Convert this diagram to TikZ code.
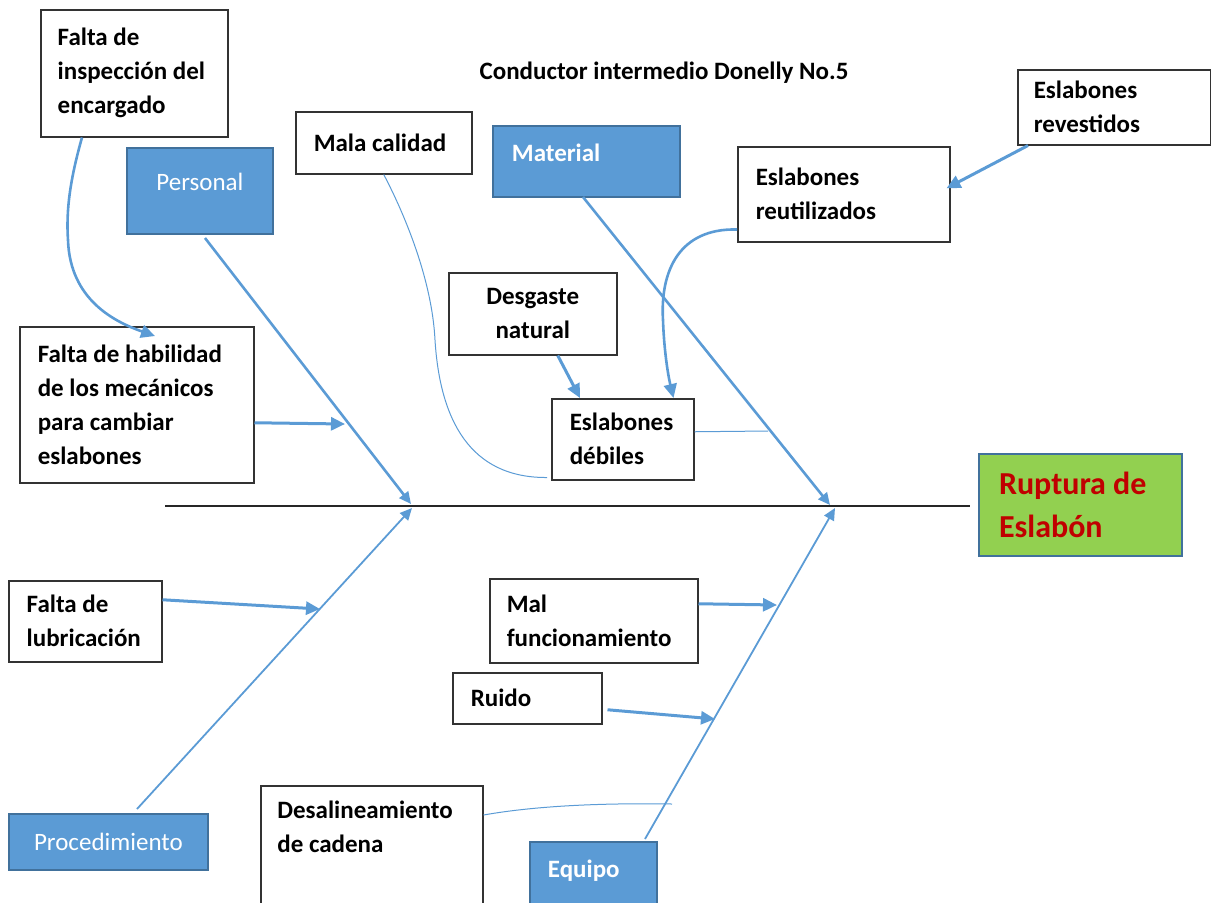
\documentclass[tikz,border=0pt]{standalone}
\usepackage{fontspec}
\setmainfont{Carlito}
\usetikzlibrary{arrows.meta}
\hyphenpenalty=10000
\exhyphenpenalty=10000
\definecolor{boneblue}{HTML}{5B9BD5}
\definecolor{boxblue}{HTML}{5B9BD5}
\definecolor{boxedge}{HTML}{41719C}
\definecolor{effectgreen}{HTML}{92D050}
\definecolor{effectred}{HTML}{C00000}
\newcommand\causefont{\fontsize{12.5}{17}\selectfont\bfseries}
\newcommand\catfont{\fontsize{12.5}{17}\selectfont}
\newcommand\effectfont{\fontsize{16}{21.5}\selectfont\bfseries}

\begin{document}
\begin{tikzpicture}[x=0.5pt,y=-0.5pt,
  every node/.style={execute at begin node={\spaceskip=0pt\xspaceskip=0pt}},
  cause/.style={draw=black!80, line width=0.75pt, fill=white, inner sep=0pt,
    anchor=north west, align=left, font=\causefont},
  category/.style={draw=boxedge, line width=0.9pt, fill=boxblue, text=white,
    inner sep=0pt, anchor=north west},
  bone/.style={draw=boneblue, line width=1.3pt, -{Triangle[length=6pt,width=5.5pt]}},
  thinbone/.style={draw=boneblue, line width=0.9pt, -{Triangle[length=6pt,width=5.5pt]}},
  feed/.style={draw=boneblue, line width=1.5pt, -{Triangle[length=7pt,width=6.5pt]}},
  link/.style={draw=boneblue, line width=0.5pt},
]
\useasboundingbox (0,0) rectangle (1211,902);

% title
\node[font=\causefont] (title) at (664,73) {Conductor intermedio Donelly No.5};

% cause boxes
\node[cause, minimum width=93.5pt, minimum height=63.5pt, text width=76.5pt] (insp) at (40,9)
  {Falta de\\inspección del\\encargado};
\node[cause, minimum width=88pt, minimum height=31pt, text width=70pt] (mala) at (295,111)
  {Mala calidad};
\node[cause, minimum width=106pt, minimum height=47.5pt, text width=88pt] (reut) at (737,146)
  {Eslabones\\reutilizados};
\node[cause, minimum width=96.5pt, minimum height=37.5pt, text width=80.5pt] (reves) at (1017,69)
  {Eslabones\\revestidos};
\node[cause, minimum width=84pt, minimum height=41pt, text width=70pt, align=center] (desg) at (448,272)
  {Desgaste\\natural};
\node[cause, minimum width=71pt, minimum height=40.5pt, text width=53pt] (debil) at (551,398)
  {Eslabones\\débiles};
\node[cause, minimum width=117pt, minimum height=78pt, text width=99pt] (habil) at (19,326)
  {Falta de habilidad\\de los mecánicos\\para cambiar\\eslabones};
\node[cause, minimum width=76.5pt, minimum height=40.5pt, text width=58.5pt] (lubr) at (8,580)
  {Falta de\\lubricación};
\node[cause, minimum width=104pt, minimum height=42pt, text width=87pt] (malf) at (489,578)
  {Mal\\funcionamiento};
\node[cause, minimum width=74.5pt, minimum height=25.5pt, text width=56.5pt] (ruido) at (452,672)
  {Ruido};
\node[cause, minimum width=111pt, minimum height=70pt] (desal) at (260,785) {};
\node[font=\causefont, align=left, inner sep=0pt, anchor=north west] (desaltext) at (277,801)
  {Desalineamiento\\de cadena};

% category boxes
\node[category, minimum width=73pt, minimum height=43pt, font=\catfont,
  text height=8pt, text depth=8pt] (personal) at (126,147) {Personal};
\node[category, minimum width=93.5pt, minimum height=35.5pt, text width=74.5pt, align=left,
  font=\causefont, text height=8pt, text depth=8pt] (material) at (492,125) {Material};
\node[category, minimum width=99.5pt, minimum height=28pt, font=\catfont] (proced) at (8,813)
  {Procedimiento};
\node[category, minimum width=63.5pt, minimum height=36pt, text width=45.5pt, align=left,
  font=\causefont, text height=8pt, text depth=8pt] (equipo) at (529,841) {Equipo};

% effect
\node[draw=boxedge, line width=1pt, fill=effectgreen, text=effectred, font=\effectfont,
  inner sep=0pt, anchor=north west, minimum width=101.5pt, minimum height=51pt,
  text width=81.5pt, align=left] (effect) at (978,453) {Ruptura de\\Eslabón};

% spine
\coordinate (spineL) at (165,506);
\coordinate (spineR) at (970,506);
\draw[black!85, line width=0.7pt] (spineL) -- (spineR);

% bones
\coordinate (pTail) at (205,238); \coordinate (pHead) at (411,504);
\coordinate (mTail) at (583,197); \coordinate (mHead) at (830,505);
\coordinate (rTail) at (137,809); \coordinate (rHead) at (412,508);
\coordinate (eTail) at (645,839); \coordinate (eHead) at (835,508);
\draw[bone] (pTail) -- (pHead);
\draw[bone] (mTail) -- (mHead);
\draw[thinbone] (rTail) -- (rHead);
\draw[thinbone] (eTail) -- (eHead);

% points where the causes meet the bones
\coordinate (jHab) at (345,424);
\coordinate (jLub) at (320,609);
\coordinate (jMal) at (777,605);
\coordinate (jRui) at (715,719);
\coordinate (jDeb) at (768,431);
\coordinate (jDes) at (672,804);

\draw[feed] ([yshift=-9pt]habil.east) -- (jHab);
\draw[feed] ([yshift=10.75pt]lubr.east) -- (jLub);
\draw[feed] ([yshift=8.5pt]malf.east) -- (jMal);
\draw[feed] ([xshift=2.5pt,yshift=-5.75pt]ruido.east) -- (jRui);
\draw[feed] ([xshift=5.5pt]reves.south west) -- ([xshift=-2pt,yshift=3pt]reut.east);
\draw[feed] ([xshift=12.5pt]desg.south) -- ([xshift=14.5pt]debil.north west);
\draw[feed, line width=1.3pt] ([xshift=21pt]insp.south west)
  .. controls (70,180) and (66,210) .. (68,240)
  .. controls (70,300) and (115,322) .. ([xshift=68pt,yshift=-5pt]habil.north west);
\draw[feed, line width=1.3pt] ([yshift=6.5pt]reut.south west)
  .. controls (680,228) and (660,270) .. (663,320)
  .. controls (664,350) and (668,375) .. ([xshift=-10.5pt]debil.north east);

% thin links
\draw[link] (mala.south) .. controls (405,215) and (432,280) .. (435,340)
  .. controls (440,420) and (470,478) .. ([xshift=-2pt,yshift=1.5pt]debil.south west);
\draw[link] ([yshift=3.75pt]debil.east) -- (jDeb);
\draw[link] ([yshift=-15pt]desal.north east) .. controls (540,805) and (610,803) .. (jDes);
\end{tikzpicture}
\end{document}
